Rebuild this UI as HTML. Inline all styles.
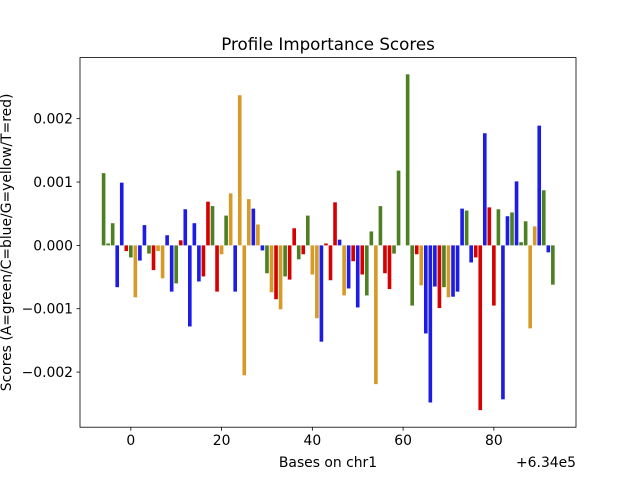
<!DOCTYPE html>
<html><head><meta charset="utf-8"><style>
html,body{margin:0;padding:0;background:#fff;}
svg{display:block;font-family:"DejaVu Sans","Liberation Sans",sans-serif;}
</style></head><body>
<svg id="chart" width="640" height="480" xmlns="http://www.w3.org/2000/svg"></svg>
<script>
const startBase = -6;
const scores = [0.00114,0.00003,0.00035,-0.00066,0.00099,-0.00009,-0.00019,-0.00082,-0.00024,0.00032,-0.00013,-0.00039,-0.00009,-0.00052,0.00016,-0.00073,-0.0006,0.00008,0.00057,-0.00128,0.00035,-0.00057,-0.00049,0.00069,0.00062,-0.00073,-0.00014,0.00047,0.00082,-0.00073,0.00237,-0.00205,0.00073,0.00058,0.00033,-0.00008,-0.00044,-0.00074,-0.00085,-0.00101,-0.00049,-0.00054,0.00027,-0.00022,-0.00014,0.00047,-0.00046,-0.00115,-0.00152,0.00003,-0.00055,0.00068,0.00009,-0.00079,-0.00068,-0.00025,-0.00098,-0.00046,-0.00079,0.00022,-0.00219,0.00062,-0.00044,-0.00069,-0.00013,0.00118,0,0.0027,-0.00095,-0.00014,-0.00063,-0.00139,-0.00248,-0.00065,-0.00099,-0.00066,-0.00082,-0.00081,-0.00073,0.00058,0.00055,-0.00027,-0.00019,-0.0026,0.00177,0.0006,-0.00095,0.00057,-0.00243,0.00046,0.00052,0.00101,0.00005,0.00038,-0.00131,0.0003,0.00189,0.00087,-0.00011,-0.00062];
// colour per base (g=A green, b=C blue, y=G yellow, r=T red), bases -6..93
const barColours = [
"g","g","g","b","b","r","g","y","b","b",
"g","r","y","y","b","b","g","r","b","b",
"b","b","r","r","g","r","y","g","y","b",
"y","y","y","b","y","b","g","y","r","y",
"g","r","r","g","r","g","y","y","b","r",
"r","r","b","y","b","r","b","r","g","g",
"y","g","r","r","g","g","g","g","g","r",
"y","b","b","b","r","g","y","b","b","b",
"g","b","r","r","b","r","r","g","b","b",
"g","b","g","g","y","y","b","g","b","g"];
const xTicks = [0,20,40,60,80];
const yTicks = [-0.002,-0.001,0,0.001,0.002];
const yTickLabels = ["\u22120.002","\u22120.001","0.000","0.001","0.002"];
</script>
<script>
const palette = {g:"#4e7f22",b:"#1c1ce4",r:"#d50000",y:"#d69a28"};
const svg = document.getElementById('chart');
const NS = "http://www.w3.org/2000/svg";
const L=80,R=576,T=57.6,B=427.2;
const xMin=-11.2,xMax=98.1,yMin=-0.00287,yMax=0.002964;
const xs=v=>L+(v-xMin)/(xMax-xMin)*(R-L);
const ys=v=>B-(v-yMin)/(yMax-yMin)*(B-T);
function mk(tag,attrs,parent){const e=document.createElementNS(NS,tag);for(const k in attrs)e.setAttribute(k,attrs[k]);(parent||svg).appendChild(e);return e;}
(function draw(){
  const bw=0.8*(xs(1)-xs(0));
  const g=mk('g',{});
  
  
  scores.forEach((v,i)=>{
    const b=startBase+i;
    const cx=xs(b);
    const y0=ys(0),y1=ys(v);
    const r=mk('rect',{x:cx-bw/2,y:Math.min(y0,y1),width:bw,height:Math.abs(y1-y0),fill:palette[barColours[i]]},g);
    
    
  });
  const frame=mk('rect',{x:L,y:T,width:R-L,height:B-T,fill:'none',stroke:'#000','stroke-width':0.8});
  
  
  xTicks.forEach(t=>{
    const x=xs(t);
    mk('line',{x1:x,x2:x,y1:B,y2:B+3.5,stroke:'#000','stroke-width':0.8});
    const tx=mk('text',{x:x,y:B+18,'font-size':13.9,'text-anchor':'middle',fill:'#000'});
    tx.textContent=t;
    
    
  });
  yTicks.forEach((t,i)=>{
    const y=ys(t);
    mk('line',{x1:L-3.5,x2:L,y1:y,y2:y,stroke:'#000','stroke-width':0.8});
    const tx=mk('text',{x:L-7,y:y+5,'font-size':13.9,'text-anchor':'end',fill:'#000'});
    tx.textContent=yTickLabels[i];
    
    
  });
  const title=mk('text',{x:(L+R)/2,y:50,'font-size':16.7,'text-anchor':'middle',fill:'#000'});
  title.textContent='Profile Importance Scores';
  
  
  const xl=mk('text',{x:(L+R)/2,y:467,'font-size':13.9,'text-anchor':'middle',fill:'#000'});
  xl.textContent='Bases on chr1';
  
  
  const off=mk('text',{x:R,y:467,'font-size':13.9,'text-anchor':'end',fill:'#000'});
  off.textContent='+6.34e5';
  
  
  const yl=mk('text',{x:0,y:0,'font-size':13.9,'text-anchor':'middle',fill:'#000',transform:'translate(11,'+((T+B)/2)+') rotate(-90)'});
  yl.textContent='Scores (A=green/C=blue/G=yellow/T=red)';
  
  
})();
</script>
</body></html>
